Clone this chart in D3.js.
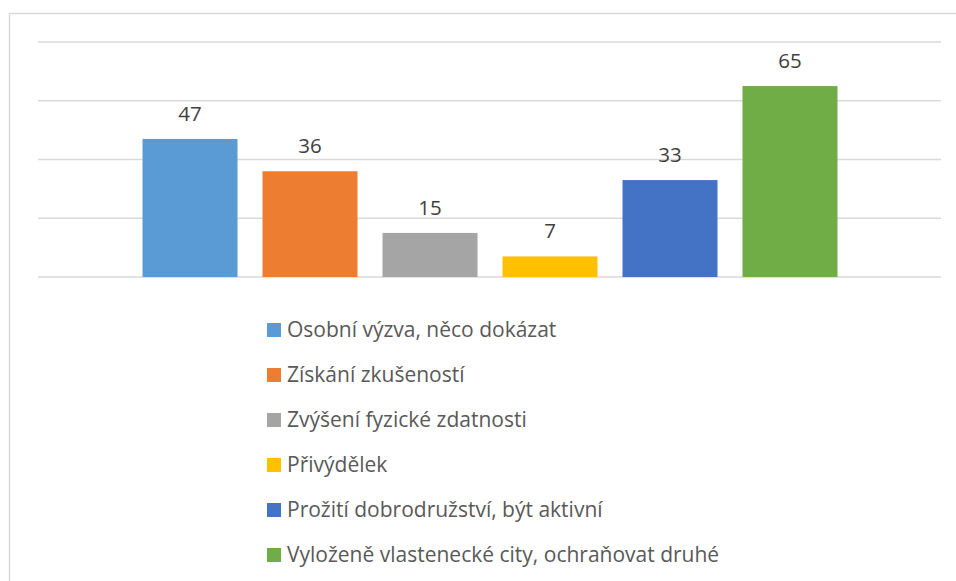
<!DOCTYPE html>
<html>
<head>
<meta charset="utf-8">
<script src="https://cdn.jsdelivr.net/npm/d3@7"></script>
<style>
  body { margin: 0; background: #fff; }
  svg { display: block; font-family: 'Open Sans', sans-serif; }
</style>
</head>
<body>
<div id="chart"></div>
<script>
/* chart data */
const categories = [
  'Osobní výzva, něco dokázat',
  'Získání zkušeností',
  'Zvýšení fyzické zdatnosti',
  'Přivýdělek',
  'Prožití dobrodružství, být aktivní',
  'Vyloženě vlastenecké city, ochraňovat druhé'
];
const values = [47, 36, 15, 7, 33, 65];
const colours = ['#5b9bd5', '#ed7d31', '#a5a5a5', '#ffc000', '#4472c4', '#70ad47'];
const gridTicks = [0, 20, 40, 60, 80];

const width = 956;
const height = 581;

const svg = d3.select('#chart')
  .append('svg')
  .attr('width', width)
  .attr('height', height);

/* outer chart border */
svg.append('rect')
  .attr('x', 9.5)
  .attr('y', 13.5)
  .attr('width', 960)
  .attr('height', 600)
  .attr('fill', 'none')
  .attr('stroke', '#d9d9d9')
  .attr('stroke-width', 1.5);

/* scales */
const x = d3.scaleBand()
  .domain(categories)
  .range([130, 850])
  .paddingInner(0.2083)
  .paddingOuter(0.1042);

const y = d3.scaleLinear()
  .domain([0, 80])
  .range([277, 42]);

/* horizontal gridlines */
svg.selectAll('.grid')
  .data(gridTicks)
  .enter()
  .append('line')
  .attr('x1', 38)
  .attr('x2', 941)
  .attr('y1', function (d) { return y(d); })
  .attr('y2', function (d) { return y(d); })
  .attr('stroke', '#d9d9d9')
  .attr('stroke-width', 1.5);

/* bars */
svg.selectAll('.bar')
  .data(values)
  .enter()
  .append('rect')
  .attr('x', function (d, i) { return x(categories[i]); })
  .attr('y', function (d) { return y(d); })
  .attr('width', x.bandwidth())
  .attr('height', function (d) { return y(0) - y(d); })
  .attr('fill', function (d, i) { return colours[i]; });

/* value labels above bars */
svg.selectAll('.lbl')
  .data(values)
  .enter()
  .append('text')
  .attr('x', function (d, i) { return x(categories[i]) + x.bandwidth() / 2; })
  .attr('y', function (d) { return y(d) - 18; })
  .attr('text-anchor', 'middle')
  .attr('fill', '#404040')
  .style('font-size', '20.5px')
  .text(function (d) { return d; });

/* legend */
const legend = svg.selectAll('.leg')
  .data(categories)
  .enter()
  .append('g')
  .attr('transform', function (d, i) { return 'translate(267,' + (330 + i * 45) + ')'; });

legend.append('rect')
  .attr('x', 0)
  .attr('y', -7)
  .attr('width', 14)
  .attr('height', 14)
  .attr('fill', function (d, i) { return colours[i]; });

legend.append('text')
  .attr('x', 20)
  .attr('y', 0)
  .attr('dy', '0.35em')
  .attr('fill', '#595959')
  .style('font-size', '21px')
  .text(function (d) { return d; });
</script>
</body>
</html>
